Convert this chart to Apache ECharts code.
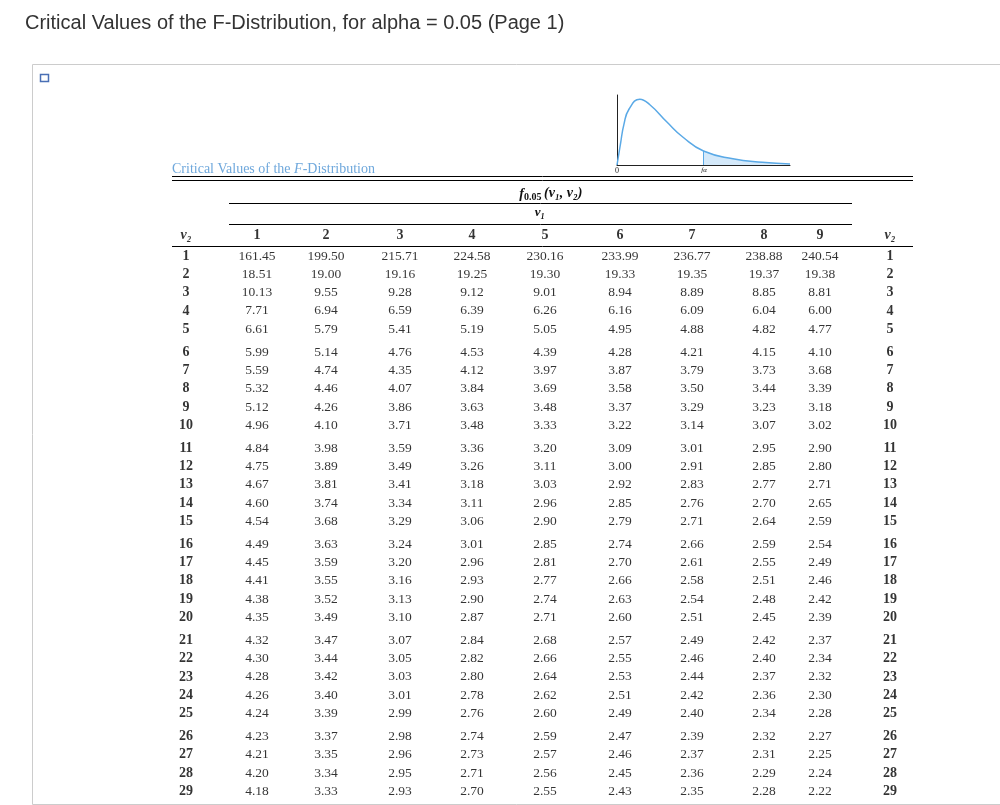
<!DOCTYPE html>
<html><head><meta charset="utf-8">
<script src="https://cdn.jsdelivr.net/npm/echarts@6/dist/echarts.min.js"></script>
<style>html,body{margin:0;padding:0;background:#fff}#c{width:1000px;height:805px}</style>
</head><body><div id="c"></div>
<script>
const v1Cols = ['1','2','3','4','5','6','7','8','9'];
const v2Rows = ['1','2','3','4','5','6','7','8','9','10','11','12','13','14','15','16','17','18','19','20','21','22','23','24','25','26','27','28','29'];
const values = [
['161.45','199.50','215.71','224.58','230.16','233.99','236.77','238.88','240.54'],
['18.51','19.00','19.16','19.25','19.30','19.33','19.35','19.37','19.38'],
['10.13','9.55','9.28','9.12','9.01','8.94','8.89','8.85','8.81'],
['7.71','6.94','6.59','6.39','6.26','6.16','6.09','6.04','6.00'],
['6.61','5.79','5.41','5.19','5.05','4.95','4.88','4.82','4.77'],
['5.99','5.14','4.76','4.53','4.39','4.28','4.21','4.15','4.10'],
['5.59','4.74','4.35','4.12','3.97','3.87','3.79','3.73','3.68'],
['5.32','4.46','4.07','3.84','3.69','3.58','3.50','3.44','3.39'],
['5.12','4.26','3.86','3.63','3.48','3.37','3.29','3.23','3.18'],
['4.96','4.10','3.71','3.48','3.33','3.22','3.14','3.07','3.02'],
['4.84','3.98','3.59','3.36','3.20','3.09','3.01','2.95','2.90'],
['4.75','3.89','3.49','3.26','3.11','3.00','2.91','2.85','2.80'],
['4.67','3.81','3.41','3.18','3.03','2.92','2.83','2.77','2.71'],
['4.60','3.74','3.34','3.11','2.96','2.85','2.76','2.70','2.65'],
['4.54','3.68','3.29','3.06','2.90','2.79','2.71','2.64','2.59'],
['4.49','3.63','3.24','3.01','2.85','2.74','2.66','2.59','2.54'],
['4.45','3.59','3.20','2.96','2.81','2.70','2.61','2.55','2.49'],
['4.41','3.55','3.16','2.93','2.77','2.66','2.58','2.51','2.46'],
['4.38','3.52','3.13','2.90','2.74','2.63','2.54','2.48','2.42'],
['4.35','3.49','3.10','2.87','2.71','2.60','2.51','2.45','2.39'],
['4.32','3.47','3.07','2.84','2.68','2.57','2.49','2.42','2.37'],
['4.30','3.44','3.05','2.82','2.66','2.55','2.46','2.40','2.34'],
['4.28','3.42','3.03','2.80','2.64','2.53','2.44','2.37','2.32'],
['4.26','3.40','3.01','2.78','2.62','2.51','2.42','2.36','2.30'],
['4.24','3.39','2.99','2.76','2.60','2.49','2.40','2.34','2.28'],
['4.23','3.37','2.98','2.74','2.59','2.47','2.39','2.32','2.27'],
['4.21','3.35','2.96','2.73','2.57','2.46','2.37','2.31','2.25'],
['4.20','3.34','2.95','2.71','2.56','2.45','2.36','2.29','2.24'],
['4.18','3.33','2.93','2.70','2.55','2.43','2.35','2.28','2.22']
];
// sketched density curve
const curve = [[0,0],[0.1,0.3],[0.2,0.58],[0.35,0.8],[0.66,0.94],[0.95,0.86],[1.45,0.61],[1.9,0.4],[2.5,0.2],[3.35,0.09],[4.2,0.04],[5,0.015]];
const tail = [[2.5,0.2],[3.35,0.09],[4.2,0.04],[5,0.015]];

// layout (pixel positions of columns within table grid)
const colX = [186,257,326,400,472,545,620,692,764,820,890];
const rowY = i => i + Math.floor(i/5)*0.25;
const serif = 'Liberation Serif';

const cells = [], bold = [], ital = [];
ital.push([colX[0], -1.15, 'v₂'], [colX[10], -1.15, 'v₂']);
v1Cols.forEach((c,j)=>bold.push([colX[j+1], -1.15, c]));
v2Rows.forEach((r,i)=>{
  bold.push([colX[0], rowY(i), r], [colX[10], rowY(i), r]);
  values[i].forEach((v,j)=>cells.push([colX[j+1], rowY(i), v]));
});
const txt = (name, data, fw, fs, sz) => ({
  type:'scatter', name, data, symbolSize:0, xAxisIndex:0, yAxisIndex:0, silent:true,
  label:{show:true, position:'inside', formatter:p=>p.value[2], color:'#000',
    fontFamily:serif, fontSize:sz, fontWeight:fw, fontStyle:fs}
});
const blue = '#5aa9e6';
const chart = echarts.init(document.getElementById('c'));
chart.setOption({
  animation:false,
  title:{text:'Critical Values of the F-Distribution, for alpha = 0.05 (Page 1)', left:20, top:8,
    textStyle:{fontFamily:'Liberation Sans', fontSize:20, fontWeight:'normal', color:'#333'}},
  grid:[
    {left:0, width:1000, top:219.4, height:585.6},
    {left:617, top:95, width:173, height:70}
  ],
  xAxis:[
    {type:'value', min:0, max:1000, show:false, gridIndex:0},
    {type:'value', min:0, max:5, gridIndex:1, axisLine:{lineStyle:{color:'#222'}}, axisTick:{show:false}, axisLabel:{show:false}, splitLine:{show:false}}
  ],
  yAxis:[
    {type:'value', min:-2, max:30, inverse:true, show:false, gridIndex:0},
    {type:'value', min:0, max:1, gridIndex:1, axisLine:{show:true, lineStyle:{color:'#222'}}, axisTick:{show:false}, axisLabel:{show:false}, splitLine:{show:false}}
  ],
  series:[
    txt('cells', cells, 'normal', 'normal', 13.5),
    txt('bold', bold, 'bold', 'normal', 14),
    txt('ital', ital, 'bold', 'italic', 14),
    {type:'line', data:tail, smooth:true, symbol:'none', xAxisIndex:1, yAxisIndex:1, lineStyle:{width:0}, areaStyle:{color:'#d4e9fa', opacity:1}, z:1,
     markLine:{symbol:'none', silent:true, label:{show:false}, lineStyle:{color:blue, width:1, type:'solid'}, data:[[{coord:[2.5,0]},{coord:[2.5,0.2]}]]}},
    {type:'line', data:curve, smooth:true, symbol:'none', xAxisIndex:1, yAxisIndex:1, lineStyle:{color:blue, width:1.5}, z:3}
  ],
  graphic:[
    {type:'rect', shape:{x:32.5, y:64.5, width:1000, height:740}, style:{fill:'none', stroke:'#ccc', lineWidth:1}},
    {type:'rect', shape:{x:40.5, y:74.5, width:8, height:7}, style:{fill:'#fff', stroke:'#4a6fb5', lineWidth:1.5}},
    {type:'text', x:172, y:162, style:{text:'Critical Values of the {i|F}-Distribution', fill:'#6fa8dc', font:'14px '+serif,
      rich:{i:{fontStyle:'italic', fill:'#6fa8dc', fontFamily:serif, fontSize:14}}}},
    {type:'text', x:617, y:167, style:{text:'0', fill:'#222', font:'8px '+serif, align:'center'}},
    {type:'text', x:704, y:167, style:{text:'fα', fill:'#222', font:'italic 7px '+serif, align:'center'}},
    {type:'text', x:710, y:155, style:{text:'α', fill:'#222', font:'italic 8px '+serif, align:'center'}},
    {type:'line', shape:{x1:172, y1:176.5, x2:913, y2:176.5}, style:{stroke:'#000', lineWidth:1}},
    {type:'line', shape:{x1:172, y1:180.5, x2:913, y2:180.5}, style:{stroke:'#000', lineWidth:1}},
    {type:'text', x:524, y:187, style:{text:'f', fill:'#111', font:'bold italic 14px '+serif, align:'right'}},
    {type:'text', x:524, y:192, style:{text:'0.05', fill:'#111', font:'bold 10px '+serif, align:'left'}},
    {type:'text', x:544, y:186, style:{text:'(v₁, v₂)', fill:'#111', font:'italic bold 14px '+serif, align:'left'}},
    {type:'line', shape:{x1:229, y1:203.5, x2:852, y2:203.5}, style:{stroke:'#000', lineWidth:1}},
    {type:'text', x:540, y:206, style:{text:'v₁', fill:'#111', font:'italic bold 13px '+serif, align:'center'}},
    {type:'line', shape:{x1:229, y1:224.5, x2:852, y2:224.5}, style:{stroke:'#000', lineWidth:1}},
    {type:'line', shape:{x1:172, y1:246.5, x2:913, y2:246.5}, style:{stroke:'#000', lineWidth:1}}
  ]
});
</script></body></html>
